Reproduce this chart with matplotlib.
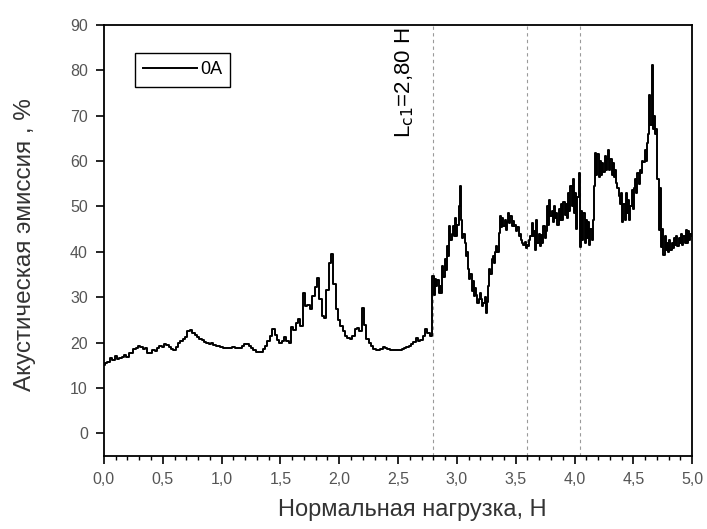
import numpy as np
import matplotlib.pyplot as plt
from matplotlib.ticker import MultipleLocator, FuncFormatter

plt.rcParams['font.family'] = ['Liberation Sans', 'DejaVu Sans']

# Smooth part of the trace, sampled every 0.02 N (0.00 ... 2.78)
emission_low = [
    15.0, 15.4, 15.8, 16.6, 16.2, 17.0, 16.4, 16.6, 16.8, 17.2,
    16.9, 17.6, 17.8, 18.6, 18.9, 19.3, 19.0, 18.5, 18.7, 17.8,
    17.6, 18.4, 18.1, 18.9, 19.2, 19.0, 19.6, 19.4, 19.0, 18.6,
    18.3, 19.0, 19.8, 20.4, 20.8, 21.2, 22.5, 22.8, 22.2, 21.6,
    21.2, 20.8, 20.5, 20.2, 19.9, 19.7, 19.8, 19.5, 19.3, 19.2,
    19.0, 18.9, 18.8, 18.8, 18.9, 19.0, 18.8, 18.8, 18.9, 19.2,
    19.6, 19.7, 19.2, 18.7, 18.4, 18.0, 17.9, 18.0, 18.5, 19.2,
    20.4, 21.5, 22.9, 21.6, 20.5, 20.0, 20.4, 21.2, 20.4, 20.0,
    23.4, 22.8, 24.2, 25.2, 23.6, 31.0, 28.0, 28.3, 27.5, 30.2,
    32.2, 34.3, 29.5, 25.8, 25.5, 31.5, 37.6, 39.4, 33.0, 27.5,
    25.0, 23.6, 22.5, 21.5, 21.0, 20.7, 21.5, 22.9, 23.2, 22.5,
    27.6, 23.8, 20.8, 19.8, 19.2, 18.5, 18.4, 18.4, 18.5, 19.1,
    18.9, 18.5, 18.4, 18.3, 18.3, 18.3, 18.4, 18.5, 18.8, 19.0,
    19.3, 19.6, 20.2, 21.0, 20.3, 20.5, 21.4, 22.9, 22.0, 21.4,
]

# Noisy part after the first critical load, sampled every 0.01 N (2.80 ... 5.00)
emission_high = [
    34.6, 30.5, 34.0, 32.4, 33.8, 31.0, 32.4, 31.0, 36.8, 34.5,
    38.3, 36.0, 41.2, 39.0, 45.6, 42.7, 44.0, 45.6, 43.5, 47.5,
    43.4, 46.0, 50.0, 54.4, 47.0, 43.0, 44.0, 42.0, 39.0, 40.0,
    36.1, 33.9, 35.0, 31.3, 33.5, 30.2, 32.0, 30.4, 28.8, 29.5,
    31.0, 29.7, 28.0, 28.7, 30.0, 26.6, 29.0, 32.4, 36.1, 35.0,
    38.3, 39.0, 37.5, 40.0, 41.2, 40.0, 44.2, 47.8, 45.5, 47.5,
    45.6, 47.0, 44.9, 46.5, 48.6, 46.3, 47.8, 45.6, 46.8, 45.6,
    46.0, 44.5, 45.5, 43.4, 44.0, 42.7, 42.0, 41.6, 42.2, 40.9,
    41.5, 41.2, 42.5, 43.4, 46.3, 43.4, 44.5, 40.5, 47.1, 41.9,
    44.0, 41.2, 43.8, 42.0, 45.6, 43.0, 44.5, 50.0, 46.0, 51.5,
    47.8, 49.0, 46.5, 50.0, 47.5, 48.6, 46.0, 49.5, 47.0, 50.5,
    47.0, 51.0, 48.0, 50.5, 47.5, 53.0, 49.0, 54.5, 50.0, 56.0,
    48.6, 53.0, 45.0, 52.0, 57.4, 41.0, 49.0, 42.5, 48.6, 42.0,
    47.0, 43.0, 46.5, 41.5, 45.0, 42.5, 47.0, 54.4, 61.8, 57.0,
    61.5, 56.5, 60.0, 57.0, 59.5, 57.5, 61.0, 58.0, 60.5, 62.5,
    58.0, 60.5, 57.0, 59.5, 56.5, 58.0, 55.2, 54.0, 52.2, 50.5,
    53.0, 46.5, 50.5, 47.1, 52.9, 48.5, 51.5, 47.0, 50.0, 53.7,
    49.5, 54.0, 56.0, 53.0, 57.4, 55.0, 58.0, 57.4, 60.0, 59.7,
    62.5, 60.0, 64.0, 66.0, 74.6, 68.0, 81.2, 67.0, 70.0, 66.0,
    67.0, 56.0, 44.9, 54.0, 41.0, 45.0, 39.2, 43.4, 40.5, 42.0,
    40.0, 42.5, 40.5, 42.0, 40.8, 43.0, 41.5, 43.4, 41.2, 43.0,
    42.0, 44.0, 41.5, 43.5, 42.0, 44.9, 42.0, 44.5, 42.5, 44.0,
    43.5,
]

load_low = np.round(np.arange(len(emission_low)) * 0.02, 2)
load_high = np.round(2.80 + np.arange(len(emission_high)) * 0.01, 2)
load = np.concatenate([load_low, load_high])
emission = np.array(emission_low + emission_high)

critical_loads = [2.80, 3.60, 4.05]
series_label = "0A"
lc1_text = r"L$_{\mathrm{c1}}$=2,80 Н"

fig = plt.figure(figsize=(7.07, 5.29), dpi=100)
ax = fig.add_axes([0.147, 0.138, 0.832, 0.815])

for xc in critical_loads:
    ax.axvline(xc, color='#9a9a9a', lw=0.8, ls=(0, (3, 3)), zorder=1)

ax.plot(load, emission, color='black', lw=1.4, drawstyle='steps-mid',
        label=series_label, zorder=3)

ax.set_xlim(0, 5.0)
ax.set_ylim(-5, 90)
ax.xaxis.set_major_locator(MultipleLocator(0.5))
ax.xaxis.set_minor_locator(MultipleLocator(0.1))
ax.yaxis.set_major_locator(MultipleLocator(10))
# decimal comma on the load axis
ax.xaxis.set_major_formatter(FuncFormatter(lambda v, pos: f"{v:.1f}".replace('.', ',')))

ax.tick_params(axis='both', which='major', direction='out', length=5.5, width=1.2,
               labelsize=11.5, labelcolor='#555555', pad=6)
ax.tick_params(axis='x', which='minor', direction='out', length=3, width=1.0)
for sp in ax.spines.values():
    sp.set_linewidth(1.3)

ax.set_xlabel("Нормальная нагрузка, Н", fontsize=17, color='#333333')
ax.set_ylabel("Акустическая эмиссия , %", fontsize=17.5, color='#333333')
ax.xaxis.set_label_coords(0.524, -0.100)
ax.yaxis.set_label_coords(-0.115, 0.49)

ax.text(2.56, 89.3, lc1_text, rotation=90, ha='center', va='top', fontsize=16)

leg = ax.legend(loc='upper left', bbox_to_anchor=(0.053, 0.934), fontsize=13,
                fancybox=False, framealpha=1, edgecolor='black', borderaxespad=0,
                handlelength=3.0, borderpad=0.45, handletextpad=0.15)
leg.get_frame().set_linewidth(1.0)

fig.savefig("out.png", dpi=100)
